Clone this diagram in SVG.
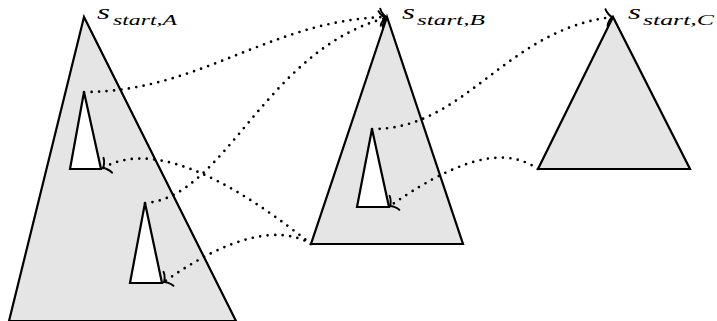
<svg xmlns="http://www.w3.org/2000/svg" width="717" height="321" viewBox="0 0 717 321">
<style>
.tri{fill:#e5e5e5;stroke:#000;stroke-width:2.2;stroke-linejoin:miter}
.hole{fill:#fff;stroke:#000;stroke-width:2.2}
.con{fill:none;stroke:#000;stroke-width:2.7;stroke-linecap:round;stroke-dasharray:0 7.5;marker-end:url(#to)}
.lbl{font-family:"Liberation Serif","Times New Roman",serif;font-style:italic;fill:#000}
</style>
<defs>
<marker id="to" markerUnits="userSpaceOnUse" viewBox="-10 -12 14 24" refX="0" refY="0" markerWidth="14" markerHeight="24" orient="auto" overflow="visible">
<path d="M-5.5,-8.5 C-5,-5 -1.2,-0.6 0,0 C-1.2,0.6 -5,5 -5.5,8.5" fill="none" stroke="#000" stroke-width="2" stroke-dasharray="none" stroke-linecap="round"/>
</marker>
</defs>
<g id="treeA">
<polygon class="tri" points="84,17 9,321 236,321"/>
<polygon class="hole" points="84,92 70,169 101,169"/>
<polygon class="hole" points="145,203 130,283 162,283"/>
<text class="lbl" x="97" y="19" font-size="21" textLength="13" lengthAdjust="spacingAndGlyphs">s</text>
<text class="lbl" x="113" y="24.5" font-size="15" textLength="64" lengthAdjust="spacingAndGlyphs">start,A</text>
</g>
<g id="treeB">
<polygon class="tri" points="387,17 311,244 463,244"/>
<polygon class="hole" points="372,129 357,207 389,207"/>
<text class="lbl" x="402" y="19" font-size="21" textLength="13" lengthAdjust="spacingAndGlyphs">s</text>
<text class="lbl" x="417" y="24.5" font-size="15" textLength="68" lengthAdjust="spacingAndGlyphs">start,B</text>
</g>
<g id="treeC">
<polygon class="tri" points="613,17 538,169 690,169"/>
<text class="lbl" x="628" y="19" font-size="21" textLength="13" lengthAdjust="spacingAndGlyphs">s</text>
<text class="lbl" x="643" y="24.5" font-size="15" textLength="71" lengthAdjust="spacingAndGlyphs">start,C</text>
</g>
<g id="connectors">
<path class="con" d="M84,92 C200,92 270,20 386,17"/>
<path class="con" d="M145,203 C225,198 265,50 386,18"/>
<path class="con" d="M311,244 C250,195 160,135 103,168"/>
<path class="con" d="M311,244 C280,225 230,235 164,282"/>
<path class="con" d="M372,129 C465,130 505,30 612,17"/>
<path class="con" d="M538,169 C510,150 470,150 390,206"/>
</g>
</svg>
